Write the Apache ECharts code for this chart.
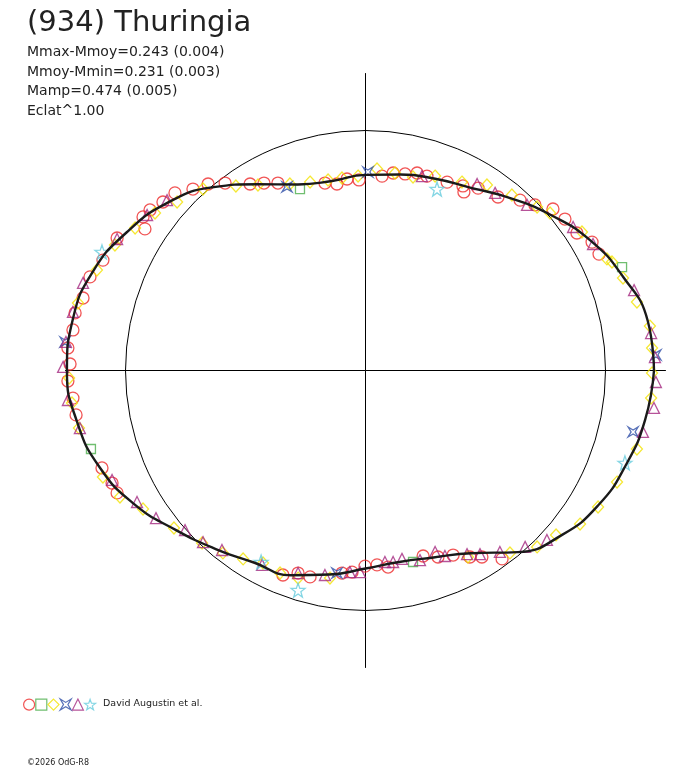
<!DOCTYPE html>
<html>
<head>
<meta charset="utf-8">
<title>(934) Thuringia</title>
<script src="https://cdn.jsdelivr.net/npm/echarts@6/dist/echarts.min.js"></script>
<style>
  html, body { margin: 0; padding: 0; background: #fff; }
  #chart { width: 688px; height: 768px; }
</style>
</head>
<body>
<div id="chart"></div>
<script>
// rotational phase (deg) and fitted radius of the lightcurve (1 = reference circle)
var phaseDeg = [0, 10, 20, 30, 40, 50, 60, 70, 80, 90, 100, 110, 120, 130, 140, 150, 160, 170, 180,
  190, 200, 210, 220, 230, 240, 250, 260, 270, 280, 290, 300, 310, 320, 330, 340, 350, 360];
var curveR = [1.202, 1.194, 1.142, 1.083, 1.008, 0.938, 0.879, 0.850, 0.829, 0.815, 0.802, 0.825, 0.896,
  0.996, 1.083, 1.150, 1.208, 1.238, 1.244, 1.221, 1.179, 1.113, 1.033, 0.971, 0.925, 0.908, 0.863,
  0.825, 0.810, 0.829, 0.879, 0.988, 1.067, 1.121, 1.154, 1.183, 1.202];

// observations, x/y in units of the reference circle radius
var redCircles = [
  [-0.656, 0.777], [-0.719, 0.756], [-0.794, 0.740], [-0.844, 0.702], [-0.898, 0.669], [-0.927, 0.640],
  [-0.919, 0.590], [-1.035, 0.552], [-1.094, 0.460], [-1.148, 0.390], [-1.177, 0.302], [-1.210, 0.240],
  [-1.219, 0.169], [-1.240, 0.094], [-0.585, 0.781], [-1.231, 0.027], [-1.240, -0.044], [-1.219, -0.115],
  [-1.206, -0.185], [-1.098, -0.406], [-1.056, -0.469], [-1.035, -0.510], [-0.481, 0.777], [-0.423, 0.781],
  [-0.365, 0.781], [-0.169, 0.781], [-0.119, 0.777], [-0.077, 0.798], [-0.027, 0.794], [0.069, 0.810],
  [0.115, 0.823], [0.165, 0.819], [0.215, 0.823], [0.256, 0.810], [0.340, 0.785], [0.406, 0.769],
  [0.410, 0.744], [0.469, 0.760], [0.552, 0.723], [0.644, 0.710], [0.706, 0.690], [0.781, 0.673],
  [0.831, 0.631], [0.881, 0.573], [0.944, 0.535], [0.973, 0.485], [-0.344, -0.852], [-0.281, -0.844],
  [-0.231, -0.860], [-0.098, -0.844], [-0.056, -0.840], [-0.002, -0.815], [0.048, -0.810], [0.094, -0.819],
  [0.240, -0.773], [0.302, -0.777], [0.365, -0.769], [0.435, -0.777], [0.485, -0.777], [0.569, -0.785]
];
var greenSquares = [[-0.273, 0.756], [1.069, 0.431], [-1.144, -0.327], [0.198, -0.798]];
var yellowDiamonds = [
  [-0.677, 0.756], [-0.785, 0.702], [-0.877, 0.656], [-0.960, 0.594], [-1.044, 0.523], [-1.119, 0.419],
  [-1.198, 0.281], [-0.540, 0.769], [-0.448, 0.773], [-0.315, 0.777], [-0.231, 0.785], [-0.156, 0.794],
  [-0.098, 0.802], [-0.031, 0.810], [0.048, 0.840], [0.123, 0.823], [0.198, 0.806], [0.290, 0.810],
  [0.402, 0.785], [0.506, 0.773], [0.610, 0.731], [0.715, 0.681], [0.769, 0.656], [0.902, 0.577],
  [1.006, 0.465], [1.027, 0.452], [1.073, 0.385], [1.131, 0.285], [1.185, 0.185], [1.194, 0.094],
  [1.194, -0.010], [1.190, -0.115], [1.131, -0.327], [1.048, -0.465], [0.969, -0.569], [0.894, -0.640],
  [0.794, -0.685], [0.715, -0.735], [0.602, -0.760], [0.427, -0.777], [-0.510, -0.785], [-0.427, -0.802],
  [-0.356, -0.844], [-0.281, -0.865], [-0.148, -0.865], [-1.235, -0.031], [-1.223, -0.135], [-1.194, -0.240],
  [-1.094, -0.444], [-1.023, -0.527], [-0.927, -0.577], [-0.798, -0.656], [-0.681, -0.719], [-0.594, -0.760]
];
var blueStars = [[-1.252, 0.119], [-0.327, 0.765], [0.010, 0.827], [1.210, 0.065], [1.115, -0.256], [-0.119, -0.844]];
var purpleTriangles = [
  [-1.035, 0.548], [-0.910, 0.648], [-0.827, 0.710], [-1.177, 0.365], [-1.219, 0.244], [-1.248, 0.119],
  [0.235, 0.810], [0.465, 0.777], [0.540, 0.740], [0.673, 0.690], [0.865, 0.598], [0.948, 0.527],
  [1.119, 0.335], [1.190, 0.156], [1.206, 0.056], [1.210, -0.048], [1.202, -0.156], [1.156, -0.256],
  [0.665, -0.735], [0.756, -0.706], [0.560, -0.756], [0.477, -0.765], [0.423, -0.765], [-0.281, -0.844],
  [-0.169, -0.852], [-0.065, -0.840], [-0.023, -0.840], [0.081, -0.798], [0.115, -0.798], [0.152, -0.785],
  [0.227, -0.790], [0.290, -0.756], [0.331, -0.773], [-1.260, 0.015], [-1.240, -0.123], [-1.190, -0.240],
  [-1.056, -0.456], [-0.952, -0.548], [-0.873, -0.615], [-0.752, -0.665], [-0.677, -0.715], [-0.598, -0.748],
  [-0.431, -0.810]
];
var cyanStars = [[-1.098, 0.494], [0.298, 0.756], [1.081, -0.385], [-0.435, -0.798], [-0.281, -0.915]];

var titleText = '(934) Thuringia';
var infoLines = ['Mmax-Mmoy=0.243 (0.004)', 'Mmoy-Mmin=0.231 (0.003)', 'Mamp=0.474 (0.005)', 'Eclat^1.00'];
var observer = 'David Augustin et al.';

var starPath = 'path://M0,-10L2.35,-3.24L9.51,-3.09L3.8,1.24L5.88,8.09L0,4L-5.88,8.09L-3.8,1.24L-9.51,-3.09L-2.35,-3.24Z';
var pinchedSquare = 'path://M0,0L5,3L10,0L7,5L10,10L5,7L0,10L3,5Z';

var chart = echarts.init(document.getElementById('chart'), null, { renderer: 'canvas' });

function pointSeries(name, data, symbol, size, color) {
  return {
    name: name,
    type: 'scatter',
    xAxisIndex: 0,
    yAxisIndex: 0,
    data: data,
    symbol: symbol,
    symbolSize: size,
    silent: true,
    clip: false,
    itemStyle: { color: 'rgba(0,0,0,0)', borderColor: color, borderWidth: 1.3 },
    z: 2
  };
}

var curveData = phaseDeg.map(function (p, i) { return [curveR[i], p]; });

var option = {
  backgroundColor: '#ffffff',
  animation: false,
  grid: { left: 65.5, top: 73.5, width: 600, height: 594 },
  xAxis: {
    type: 'value', min: -1.25, max: 1.25,
    axisLine: { onZero: true, lineStyle: { color: '#000', width: 1 } },
    axisTick: { show: false }, axisLabel: { show: false }, splitLine: { show: false }
  },
  yAxis: {
    type: 'value', min: -1.2375, max: 1.2375,
    axisLine: { onZero: true, lineStyle: { color: '#000', width: 1 } },
    axisTick: { show: false }, axisLabel: { show: false }, splitLine: { show: false }
  },
  // polar extends to r = 2 so the curve is not clipped; the r = 1 split circle is the reference circle
  polar: { center: [365.5, 370.5], radius: 480 },
  angleAxis: {
    type: 'value', min: 0, max: 360, startAngle: 0, clockwise: false,
    axisLine: { show: false },
    axisTick: { show: false }, axisLabel: { show: false }, splitLine: { show: false }
  },
  radiusAxis: {
    type: 'value', min: 0, max: 2, interval: 1,
    axisLine: { show: false }, axisTick: { show: false }, axisLabel: { show: false },
    splitLine: { show: true, lineStyle: { color: ['rgba(0,0,0,0)', '#000', 'rgba(0,0,0,0)'], width: 1 } }
  },
  legend: {
    left: 23, top: 698.5, padding: 0,
    itemWidth: 11, itemHeight: 11, itemGap: 0,
    selectedMode: false,
    formatter: function () { return ''; },
    itemStyle: { borderWidth: 1.2 },
    data: ['circle', 'square', 'diamond', 'cross', 'triangle', 'star']
  },
  graphic: [
    { type: 'text', left: 27, top: 9, style: { text: titleText, font: '29px "DejaVu Sans"', fill: '#222' } },
    { type: 'text', x: 27, y: 52, style: { text: infoLines[0], font: '14px "DejaVu Sans"', fill: '#222', verticalAlign: 'middle' } },
    { type: 'text', x: 27, y: 72, style: { text: infoLines[1], font: '14px "DejaVu Sans"', fill: '#222', verticalAlign: 'middle' } },
    { type: 'text', x: 27, y: 91.5, style: { text: infoLines[2], font: '14px "DejaVu Sans"', fill: '#222', verticalAlign: 'middle' } },
    { type: 'text', x: 27, y: 111, style: { text: infoLines[3], font: '14px "DejaVu Sans"', fill: '#222', verticalAlign: 'middle' } },
    { type: 'text', x: 103, y: 704, style: { text: observer, font: '9.5px "DejaVu Sans"', fill: '#222', verticalAlign: 'middle' } },
    { type: 'text', x: 27, y: 763, style: { text: '\u00a92026 OdG-R8', font: '8px "DejaVu Sans"', fill: '#222', verticalAlign: 'middle' } }
  ],
  series: [
    pointSeries('circle', redCircles, 'circle', 12, '#ee2b2b'),
    pointSeries('square', greenSquares, 'rect', 9, '#4cae4c'),
    pointSeries('diamond', yellowDiamonds, 'diamond', [11, 12], '#f2e200'),
    pointSeries('cross', blueStars, pinchedSquare, 10, '#2f4fa8'),
    pointSeries('triangle', purpleTriangles, 'triangle', 11, '#a4287f'),
    pointSeries('star', cyanStars, starPath, 14, '#66ccdd'),
    {
      name: 'lightcurve',
      type: 'line',
      coordinateSystem: 'polar',
      data: curveData,
      smooth: true,
      symbol: 'none',
      clip: false,
      silent: true,
      lineStyle: { color: '#1a1a1a', width: 2.4 },
      z: 3
    }
  ]
};

chart.setOption(option);
</script>
</body>
</html>
